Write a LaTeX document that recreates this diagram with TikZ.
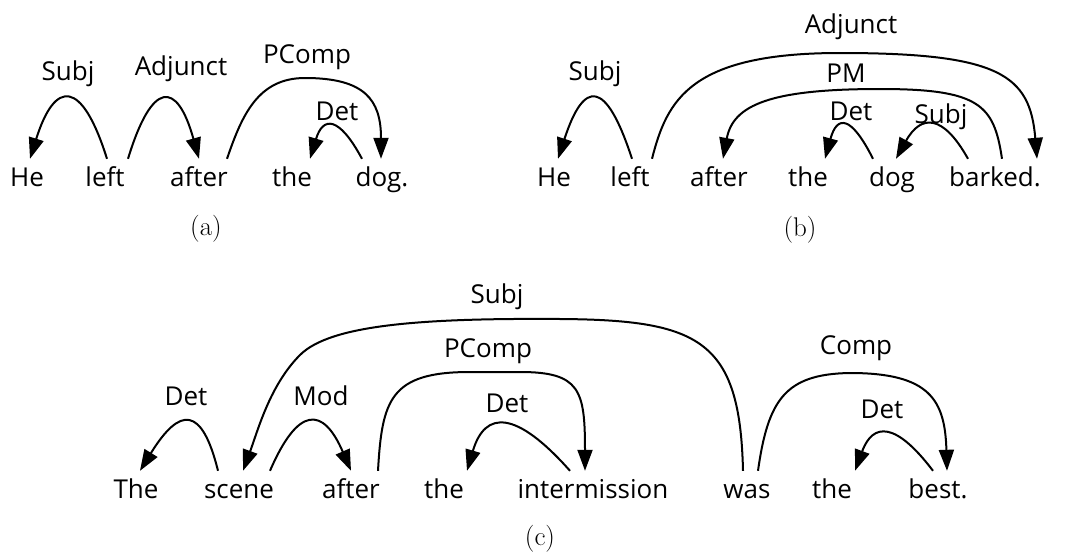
\documentclass[tikz,border=0pt]{standalone}
\usepackage{fontspec}
\newfontfamily\osans{Open Sans}
\usetikzlibrary{arrows.meta}
\begin{document}
\begin{tikzpicture}[x=1pt,y=-1pt,
 word/.style={font=\osans\fontsize{26}{30}\selectfont, anchor=base, text height=20pt, text depth=6pt, inner xsep=0pt, inner ysep=7pt},
 lab/.style={font=\osans\fontsize{26}{30}\selectfont, anchor=base, inner sep=0pt},
 subcap/.style={font=\fontsize{27}{32}\selectfont, anchor=base, inner sep=0pt},
 dep/.style={line width=2pt, -{Triangle[length=21pt,width=15pt]}}]
\useasboundingbox (0,0) rectangle (1066,554);
% (a)
\node[word] (aHe) at (27,186) {He};
\node[word] (aleft) at (105,186) {left};
\node[word] (aafter) at (199,186) {after};
\node[word] (athe) at (292,186) {the};
\node[word] (adog) at (382,186) {dog.};
\node[lab] (aSubj) at (68,80) {Subj};
\node[lab] (aAdj) at (181,75) {Adjunct};
\node[lab] (aPComp) at (307,63) {PComp};
\node[lab] (aDet) at (337,120) {Det};
\node[subcap] (capa) at (206,235) {(a)};
\draw[dep] ([xshift=2pt]aleft.north) .. controls (82,79) and (55,79) .. ([xshift=3pt]aHe.north);
\draw[dep] ([xshift=23pt]aleft.north) .. controls (152,80) and (177,80) .. (aafter.north);
\draw[dep] ([xshift=28pt]aafter.north) .. controls (242,115) and (258,78) .. (305,78) .. controls (365,78) and (381,100) .. ([xshift=-1pt]adog.north);
\draw[dep] ([xshift=-20pt]adog.north) .. controls (339,116) and (323,116) .. ([xshift=18pt]athe.north);
% (b)
\node[word] (bHe) at (554,186) {He};
\node[word] (bleft) at (630,186) {left};
\node[word] (bafter) at (719,186) {after};
\node[word] (bthe) at (808,186) {the};
\node[word] (bdog) at (892,186) {dog};
\node[word] (bbarked) at (995,186) {barked.};
\node[lab] (bSubj) at (595,80) {Subj};
\node[lab] (bAdj) at (851,33) {Adjunct};
\node[lab] (bPM) at (846,82) {PM};
\node[lab] (bDet) at (851,120) {Det};
\node[lab] (bSubjb) at (941,123) {Subj};
\node[subcap] (capb) at (800,236) {(b)};
\draw[dep] ([xshift=2pt]bleft.north) .. controls (606,79) and (584,79) .. ([xshift=4pt]bHe.north);
\draw[dep] ([xshift=22pt]bleft.north) .. controls (667,100) and (690,53) .. (840,53) .. controls (1000,53) and (1030,75) .. ([xshift=42pt]bbarked.north);
\draw[dep] ([xshift=7pt]bbarked.north) .. controls (994,105) and (980,89) .. (880,89) .. controls (770,89) and (733,105) .. ([xshift=4pt]bafter.north);
\draw[dep] ([xshift=-19pt]bdog.north) .. controls (851,115) and (837,115) .. ([xshift=17pt]bthe.north);
\draw[dep] ([xshift=-27pt]bbarked.north) .. controls (943,114) and (921,114) .. ([xshift=4pt]bdog.north);
% (c)
\node[word] (cThe) at (136,498) {The};
\node[word] (cscene) at (239,498) {scene};
\node[word] (cafter) at (351,498) {after};
\node[word] (cthe) at (444,498) {the};
\node[word] (cinter) at (593,498) {intermission};
\node[word] (cwas) at (747,498) {was};
\node[word] (cthe2) at (832,498) {the};
\node[word] (cbest) at (938,498) {best.};
\node[lab] (cDeta) at (186,405) {Det};
\node[lab] (cMod) at (321,405) {Mod};
\node[lab] (cDetb) at (507,412) {Det};
\node[lab] (cPComp) at (488,357) {PComp};
\node[lab] (cSubj) at (497,303) {Subj};
\node[lab] (cComp) at (856,354) {Comp};
\node[lab] (cDetc) at (882,418) {Det};
\node[subcap] (capc) at (540,545) {(c)};
\draw[dep] ([xshift=-21pt]cscene.north) .. controls (202,406) and (180,406) .. ([xshift=4pt]cThe.north);
\draw[dep] ([xshift=31pt]cscene.north) .. controls (298,406) and (323,406) .. (cafter.north);
\draw[dep] ([xshift=27pt]cafter.north) .. controls (382,400) and (390,372) .. (470,372) -- (520,372) .. controls (580,372) and (585,390) .. ([xshift=-8pt]cinter.north);
\draw[dep] ([xshift=-23pt]cinter.north) .. controls (516,410) and (485,410) .. ([xshift=23pt]cthe.north);
\draw[dep] ([xshift=-4pt]cwas.north) .. controls (740,340) and (700,320) .. (560,319) .. controls (420,318) and (330,325) .. (300,355) .. controls (270,385) and (258,430) .. ([xshift=4pt]cscene.north);
\draw[dep] ([xshift=11pt]cwas.north) .. controls (768,400) and (785,374) .. (850,373) .. controls (930,373) and (945,400) .. ([xshift=9pt]cbest.north);
\draw[dep] ([xshift=-5pt]cbest.north) .. controls (896,422) and (873,422) .. ([xshift=23pt]cthe2.north);
\end{tikzpicture}
\end{document}
